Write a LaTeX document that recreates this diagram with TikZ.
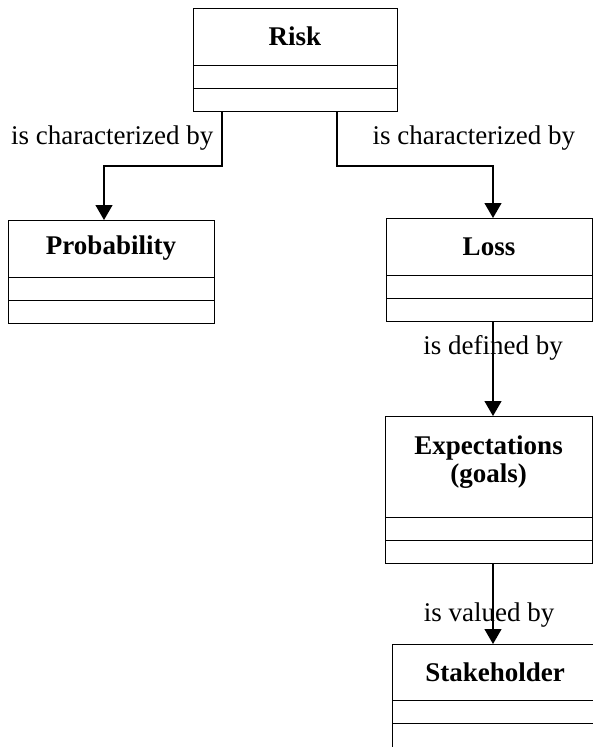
\documentclass[tikz,border=0pt]{standalone}
\usepackage{fontspec}
\setmainfont{Liberation Serif}
\usepackage{tikz}
\usetikzlibrary{positioning,arrows.meta,calc}

\begin{document}
\begin{tikzpicture}[x=1pt, y=-1pt,
font=\fontsize{27pt}{28pt}\selectfont,
classname/.style ={rectangle, draw=black, line width=1pt, text centered, align=center, font=\fontsize{27pt}{28pt}\selectfont\bfseries, minimum width=206pt, minimum height=57pt, inner sep=0pt, outer sep=0pt},
compartment/.style ={rectangle, draw=black, line width=1pt, minimum width=206pt, minimum height=23pt, inner sep=0pt, outer sep=0pt},
relation/.style ={-{Triangle[length=15pt,width=17pt]}, line width=1.2pt},
relabel/.style ={inner sep=8pt},
]

\useasboundingbox (0,0) rectangle (593,747);

% class boxes
\node (RISK) [classname, minimum width=204pt, anchor=north west] at (193,8) {Risk};
\node (RISKA) [compartment, minimum width=204pt, below=0pt of RISK] {};
\node (RISKO) [compartment, minimum width=204pt, below=0pt of RISKA] {};

\node (PROB) [classname, anchor=north west] at (8,220) {Probability};
\node (PROBA) [compartment, below=0pt of PROB] {};
\node (PROBO) [compartment, below=0pt of PROBA] {};

\node (LOSS) [classname, anchor=north west] at (386,218) {Loss};
\node (LOSSA) [compartment, below=0pt of LOSS] {};
\node (LOSSO) [compartment, below=0pt of LOSSA] {};

\node (EXP) [classname, minimum width=207pt, minimum height=101pt, anchor=north west] at (385,416) {Expectations\\(goals)\\[-14pt]\mbox{}};
\node (EXPA) [compartment, minimum width=207pt, below=0pt of EXP] {};
\node (EXPO) [compartment, minimum width=207pt, below=0pt of EXPA] {};

\node (STAKE) [classname, minimum height=56pt, anchor=north west] at (392,644) {Stakeholder};
\node (STAKEA) [compartment, below=0pt of STAKE] {};
\node (STAKEO) [compartment, minimum height=28pt, below=0pt of STAKEA] {};

% bends of the two upper connectors, column of the right-hand chain
\coordinate (LBEND) at (222,166);
\coordinate (RBEND) at (337,166);
\coordinate (COLX) at (493,0);

\draw[relation] (RISKO.south -| LBEND) -- node (LCHAR) [left, relabel] {is characterized by} (LBEND) -| ([xshift=-7pt]PROB.north);
\draw[relation] (RISKO.south -| RBEND) -- node (RCHAR) [right, relabel, xshift=27pt] {is characterized by} (RBEND) -| (LOSS.north -| COLX);
\draw[relation] (LOSSO.south -| COLX) -- node (DEFBY) [pos=0.28] {is defined by} (EXP.north -| COLX);
\draw[relation] (EXPO.south -| COLX) -- node (VALBY) [pos=0.64, xshift=-4pt] {is valued by} (STAKE.north -| COLX);

\end{tikzpicture}
\end{document}
